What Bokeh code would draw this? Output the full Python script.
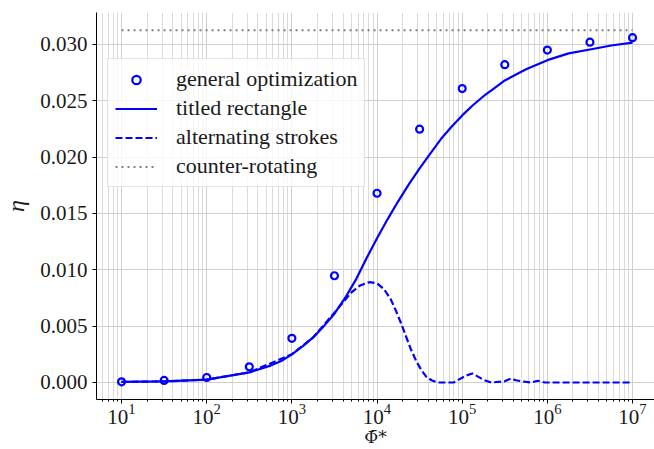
import numpy as np
from bokeh.plotting import figure
from bokeh.models import FixedTicker, PrintfTickFormatter, Legend, LegendItem, Range1d
from bokeh.embed import file_html
from bokeh.resources import INLINE

# Sample positions are given as decades of Phi*
opt_exp = [1.0, 1.5, 2.0, 2.5, 3.0, 3.5, 4.0, 4.5, 5.0, 5.5, 6.0, 6.5, 7.0]
opt_eta = [0.00006, 0.00018, 0.00044, 0.00139, 0.00392, 0.00947, 0.01679,
           0.02248, 0.02608, 0.0282, 0.0295, 0.0302, 0.0306]

rect_exp = [1.0, 1.5, 2.0, 2.5, 2.75, 2.875, 3.0, 3.125, 3.25, 3.375, 3.5,
            3.625, 3.75, 3.875, 4.0, 4.125, 4.25, 4.375, 4.5, 4.625, 4.75,
            4.875, 5.0, 5.125, 5.25, 5.375, 5.5, 5.75, 6.0, 6.25, 6.5, 6.75,
            7.0]
rect_eta = [0.00005, 0.0001, 0.00025, 0.0009, 0.0015, 0.0019, 0.0025, 0.0032,
            0.0040, 0.0050, 0.0061, 0.0075, 0.0091, 0.0110, 0.0128, 0.0145,
            0.0161, 0.0176, 0.0190, 0.0203, 0.0216, 0.0227, 0.0237, 0.0246,
            0.0254, 0.0261, 0.0268, 0.0278, 0.0286, 0.0292, 0.02955, 0.0299,
            0.03015]

alt_exp = [1.0, 1.5, 2.0, 2.5, 3.0, 3.25, 3.5, 3.6, 3.7, 3.8, 3.91, 4.0, 4.08,
           4.16, 4.22, 4.28, 4.34, 4.40, 4.46, 4.52, 4.58, 4.64, 4.71, 4.9,
           4.97, 5.04, 5.12, 5.19, 5.26, 5.34, 5.5, 5.57, 5.63, 5.7, 5.81,
           5.89, 5.97, 7.0]
alt_eta = [0.00005, 0.0001, 0.00025, 0.0009, 0.0025, 0.0040, 0.0062, 0.0071,
           0.0080, 0.0086, 0.0089, 0.0088, 0.0083, 0.0074, 0.0064, 0.0053,
           0.0041, 0.0029, 0.0019, 0.0011, 0.0005, 0.0002, 0.0, 0.0,
           0.0003, 0.0006, 0.0008, 0.0005, 0.0002, 0.0, 0.0001, 0.00035,
           0.0002, 0.0001, 0.0, 0.00015, 0.0, 0.0]

counter_exp = [1.0, 7.0]
counter_eta = [0.03125, 0.03125]

x_major = [1e1, 1e2, 1e3, 1e4, 1e5, 1e6, 1e7]
y_major = [0.0, 0.005, 0.010, 0.015, 0.020, 0.025, 0.030]


def phi(exps):
    return [10.0 ** e for e in exps]


FONT = "Liberation Serif"
BLUE = "#0000ff"
INK = "#1a1a1a"

p = figure(width=654, height=449, x_axis_type="log",
           x_range=Range1d(10 ** 0.706, 10 ** 7.258),
           y_range=Range1d(-0.00151, 0.03283),
           output_backend="svg", toolbar_location=None,
           min_border_left=96, min_border_right=0,
           min_border_top=12, min_border_bottom=49)
p.outline_line_color = None
p.background_fill_color = "white"

# axes
minor = [m * 10.0 ** d for d in range(0, 8) for m in range(2, 10)]
p.xaxis.ticker = FixedTicker(ticks=x_major, minor_ticks=minor)
p.yaxis.ticker = FixedTicker(ticks=y_major)
p.yaxis.formatter = PrintfTickFormatter(format="%.3f")

for ax in (p.xaxis, p.yaxis):
    ax.axis_line_color = "black"
    ax.axis_line_width = 1
    ax.major_tick_line_color = "black"
    ax.major_tick_out = 4
    ax.major_tick_in = 0
    ax.major_label_text_font = FONT
    ax.major_label_text_font_size = "21px"
    ax.major_label_text_color = INK
    ax.axis_label_text_color = INK

p.xaxis.minor_tick_line_color = "black"
p.xaxis.minor_tick_out = 2
p.xaxis.minor_tick_in = 0
p.xaxis.major_label_standoff = 0
p.xaxis.axis_label = "Φ̄*"
p.xaxis.axis_label_text_font = "DejaVu Serif"
p.xaxis.axis_label_text_font_size = "17px"
p.xaxis.axis_label_text_font_style = "normal"
p.xaxis.axis_label_standoff = 0

p.yaxis.minor_tick_line_color = None
p.yaxis.major_label_standoff = 5
p.yaxis.axis_label = "η"
p.yaxis.axis_label_text_font = FONT
p.yaxis.axis_label_text_font_size = "24px"
p.yaxis.axis_label_text_font_style = "italic"
p.yaxis.axis_label_standoff = 8

# grid
p.xgrid.grid_line_color = "#cfcfcf"
p.xgrid.grid_line_width = 1
p.xgrid.minor_grid_line_color = "#dadada"
p.xgrid.minor_grid_line_width = 1
p.ygrid.grid_line_color = "#cfcfcf"
p.ygrid.grid_line_width = 1

# series
r_counter = p.line(phi(counter_exp), counter_eta, line_color="#808080",
                   line_width=2, line_dash="2 4")
r_rect = p.line(phi(rect_exp), rect_eta, line_color=BLUE, line_width=2.2)
r_alt = p.line(phi(alt_exp), alt_eta, line_color=BLUE, line_width=2.2,
               line_dash="7 3")
r_opt = p.scatter(phi(opt_exp), opt_eta, marker="circle", size=7,
                  line_width=2.2, line_color=BLUE, fill_color=None)

legend = Legend(items=[
    LegendItem(label="general optimization", renderers=[r_opt]),
    LegendItem(label="titled rectangle", renderers=[r_rect]),
    LegendItem(label="alternating strokes", renderers=[r_alt]),
    LegendItem(label="counter-rotating", renderers=[r_counter]),
], location=(11, 212))
legend.label_text_font = FONT
legend.label_text_font_size = "22px"
legend.label_text_color = INK
legend.glyph_width = 42
legend.glyph_height = 21
legend.label_height = 21
legend.label_standoff = 19
legend.padding = 7
legend.spacing = 3
legend.margin = 0
legend.border_line_color = "#cccccc"
legend.border_line_width = 1
legend.background_fill_color = "white"
legend.background_fill_alpha = 0.8
p.add_layout(legend, "center")

open("out.html", "w").write(file_html(p, INLINE))
